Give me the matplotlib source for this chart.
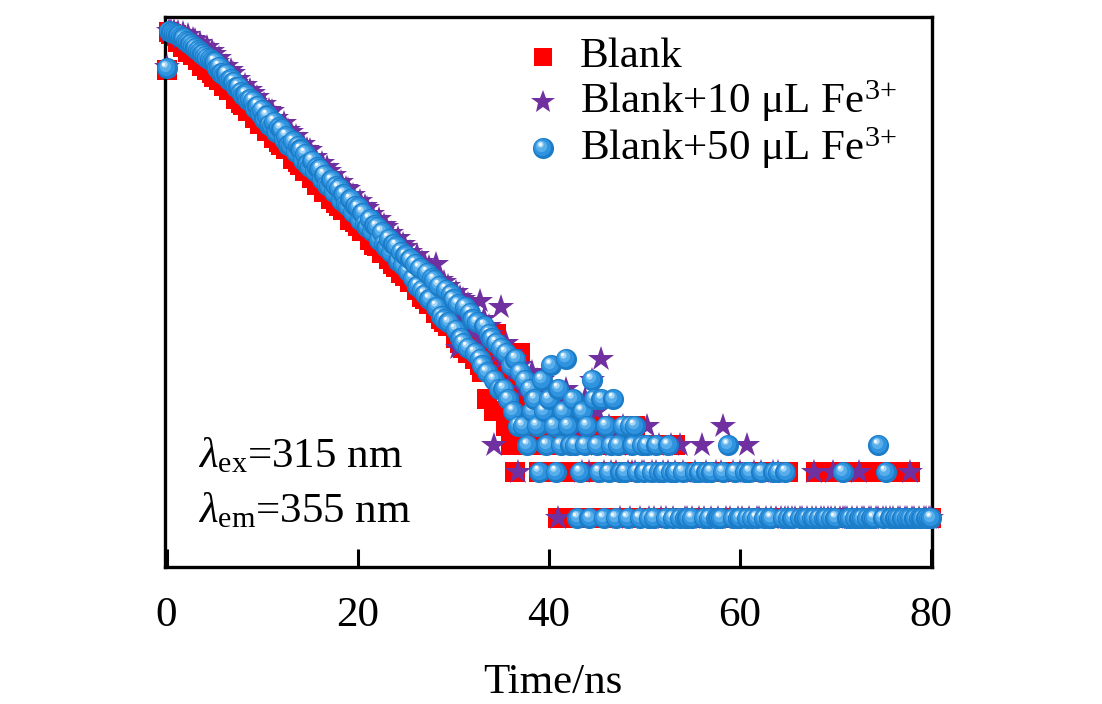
import numpy as np
import matplotlib
matplotlib.use("Agg")
import matplotlib.pyplot as plt
from matplotlib.transforms import offset_copy
from matplotlib.ticker import NullLocator, FixedLocator

plt.rcParams['font.family'] = ['Liberation Serif', 'DejaVu Serif']
plt.rcParams['mathtext.fontset'] = 'custom'
plt.rcParams['mathtext.rm'] = 'Liberation Serif'
plt.rcParams['mathtext.it'] = 'Liberation Serif:italic'
plt.rcParams['mathtext.bf'] = 'Liberation Serif:bold'

# ---------------- data (photon counts per 0.25 ns channel) ----------------
CHANNEL_NS = 0.25

blank = [
    850, 1490, 1465, 1420, 1433, 1300, 1328, 1202, 1289, 1116, 1182, 1066,
    1138, 983, 987, 893, 961, 844, 924, 812, 764, 832, 725, 757,
    666, 724, 631, 646, 641, 547, 583, 518, 499, 536, 459, 489,
    479, 410, 428, 377, 374, 395, 337, 370, 346, 305, 328, 286,
    273, 296, 258, 269, 261, 223, 238, 212, 204, 220, 185, 199,
    195, 166, 173, 151, 152, 161, 136, 148, 142, 122, 134, 114,
    110, 120, 103, 108, 107, 89, 97, 86, 81, 89, 75, 82,
    78, 66, 71, 61, 60, 66, 54, 60, 59, 49, 54, 46,
    44, 49, 40, 45, 38, 42, 35, 39, 37, 31, 35, 28,
    27, 32, 25, 29, 28, 22, 26, 20, 19, 24, 18, 22,
    21, 15, 19, 14, 13, 18, 12, 16, 15, 11, 14, 10,
    9, 13, 6, 12, 11, 5, 16, 9, 10, 7, 4, 9,
    3, 8, 2, 6, 12, 5, 3, 7, 5, 3, 6, 4,
    2, 5, 3, 6, 4, 3, 5, 2, 1, 4, 3, 5,
    3, 2, 4, 1, 2, 4, 1, 3, 3, 1, 2, 4,
    2, 3, 1, 2, 1, 2, 4, 3, 2, 1, 3, 4,
    3, 2, 1, 2, 4, 1, 2, 3, 2, 1, 3, 1,
    1, 2, 0, 2, 3, 1, 2, 1, 2, 3, 1, 0,
    1, 2, 0, 1, 2, 0, 1, 1, 1, 2, 1, 0,
    0, 1, 2, 1, 1, 1, 0, 2, 1, 0, 2, 1,
    2, 1, 0, 1, 1, 2, 1, 0, 0, 1, 2, 1,
    2, 0, 1, 1, 1, 2, 0, 1, 2, 1, 0, 1,
    1, 0, 1, 1, 0, 1, 1, 0, 2, 1, 0, 1,
    1, 2, 0, 1, 0, 1, 2, 1, 1, 0, 1, 2,
    2, 1, 0, 1, 1, 0, 2, 1, 0, 1, 1, 2,
    1, 2, 0, 1, 1, 0, 2, 1, 0, 1, 1, 2,
    1, 0, 1, 1, 1, 1, 0, 1, 1,
]

fe10 = [
    880, 1530, 1525, 1515, 1463, 1510, 1380, 1469, 1329, 1433, 1282, 1356,
    1338, 1170, 1267, 1131, 1119, 1199, 1033, 1120, 1077, 948, 1019, 870,
    847, 903, 771, 847, 815, 697, 743, 654, 623, 677, 585, 623,
    600, 523, 563, 477, 471, 506, 432, 465, 454, 387, 413, 364,
    347, 380, 325, 343, 334, 285, 313, 273, 260, 280, 236, 257,
    254, 214, 227, 201, 191, 209, 181, 196, 186, 160, 174, 147,
    145, 158, 133, 144, 141, 119, 129, 113, 108, 118, 99, 109,
    106, 88, 97, 84, 80, 90, 75, 82, 80, 66, 73, 62,
    61, 68, 55, 62, 59, 50, 55, 47, 46, 52, 41, 47,
    45, 37, 44, 34, 33, 46, 30, 36, 35, 27, 33, 25,
    24, 30, 13, 28, 27, 20, 25, 18, 21, 17, 19, 26,
    15, 20, 14, 18, 16, 3, 14, 12, 24, 11, 14, 10,
    12, 9, 11, 2, 10, 7, 9, 8, 7, 9, 6, 8,
    6, 8, 5, 7, 5, 7, 4, 6, 1, 6, 4, 7,
    5, 3, 6, 4, 3, 5, 2, 6, 4, 2, 8, 3,
    5, 3, 11, 2, 3, 4, 2, 3, 2, 3, 1, 4,
    3, 2, 1, 2, 2, 3, 1, 2, 2, 4, 1, 2,
    1, 2, 3, 1, 2, 1, 2, 3, 1, 2, 0, 3,
    2, 1, 1, 0, 1, 2, 0, 1, 3, 1, 2, 0,
    1, 0, 2, 1, 2, 4, 1, 0, 1, 2, 0, 1,
    2, 1, 0, 3, 1, 0, 2, 1, 1, 2, 0, 1,
    0, 1, 2, 1, 2, 1, 0, 1, 1, 0, 1, 1,
    0, 1, 1, 0, 1, 0, 1, 2, 1, 0, 1, 1,
    0, 1, 1, 2, 1, 0, 1, 1, 1, 1, 0, 1,
    0, 1, 2, 1, 1, 0, 1, 1, 0, 1, 1, 0,
    1, 1, 0, 1, 1, 0, 1, 1, 0, 1, 1, 2,
    1, 1, 0, 1, 0, 1, 1, 1, 1,
]

fe50 = [
    870, 1520, 1500, 1480, 1450, 1425, 1390, 1362, 1318, 1291, 1255, 1218,
    1185, 1146, 1112, 1083, 1049, 1022, 993, 968, 958, 875, 889, 808,
    781, 800, 725, 741, 709, 652, 658, 607, 584, 590, 541, 547,
    534, 477, 494, 443, 465, 406, 427, 372, 367, 390, 333, 358,
    349, 301, 314, 273, 269, 289, 247, 271, 256, 219, 240, 207,
    197, 216, 185, 197, 192, 164, 175, 151, 148, 161, 135, 148,
    143, 120, 131, 113, 109, 121, 100, 110, 107, 88, 99, 84,
    80, 90, 75, 82, 80, 66, 74, 62, 59, 67, 55, 62,
    60, 48, 55, 45, 52, 41, 49, 37, 46, 33, 43, 31,
    29, 40, 27, 37, 36, 24, 33, 21, 20, 31, 19, 29,
    27, 17, 25, 15, 14, 24, 13, 22, 20, 12, 19, 11,
    10, 18, 9, 16, 15, 8, 14, 7, 13, 7, 12, 6,
    10, 5, 11, 4, 9, 4, 8, 3, 7, 5, 6, 4,
    2, 8, 5, 3, 6, 10, 4, 2, 7, 3, 5, 11,
    4, 3, 6, 3, 1, 2, 5, 3, 4, 1, 8, 6,
    3, 2, 6, 1, 4, 2, 3, 6, 1, 3, 2, 4,
    2, 1, 4, 3, 4, 2, 1, 3, 2, 3, 1, 2,
    1, 3, 2, 0, 2, 1, 3, 2, 1, 2, 0, 1,
    2, 1, 1, 0, 1, 2, 0, 2, 0, 1, 2, 1,
    2, 0, 1, 1, 1, 2, 0, 3, 0, 1, 2, 1,
    1, 0, 2, 1, 2, 1, 0, 1, 0, 2, 1, 0,
    1, 1, 2, 0, 2, 0, 1, 2, 1, 0, 1, 0,
    0, 1, 0, 1, 1, 0, 1, 1, 0, 1, 0, 1,
    1, 0, 1, 0, 1, 0, 0, 2, 0, 1, 1, 0,
    1, 0, 1, 1, 0, 1, 0, 1, 1, 0, 3, 0,
    1, 2, 0, 1, 0, 1, 1, 0, 1, 0, 1, 1,
    0, 1, 0, 1, 1, 0, 1, 1, 1,
]

series_labels = ['Blank', 'Blank+10 μL Fe$^{3{+}}$', 'Blank+50 μL Fe$^{3{+}}$']
x_ticks = [0, 20, 40, 60, 80]
x_label = 'Time/ns'
notes = [r'$\lambda_{\rm ex}$=315 nm', r'$\lambda_{\rm em}$=355 nm']

RED = '#ff0000'
PURPLE = '#7030a0'
BLUE_LAYERS = [  # (size, colour, dx, dy) -> shaded sphere
    (15.2, '#1b7cc8', 0.0, 0.0),
    (12.4, '#2f93df', -0.5, 0.7),
    (8.2, '#57aeea', -1.3, 1.7),
    (4.5, '#a9d8f7', -2.0, 2.7),
    (2.1, '#ffffff', -2.4, 3.2),
]
SQUARE_MS = 14
STAR_MS = 19
FS = 31


def points(counts):
    c = np.asarray(counts, dtype=float)
    t = np.arange(len(c)) * CHANNEL_NS
    keep = c > 0
    return t[keep], c[keep]


fig = plt.figure(figsize=(11.02, 7.04), dpi=100)
ax = fig.add_axes([165 / 1102, 1 - 567 / 704, (932 - 165) / 1102, (567 - 17) / 704])
ax.set_yscale('log')
ax.set_xlim(-0.16, 80.1)
ax.set_ylim(0.478, 1880)

# Blank (red squares)
tb, cb = points(blank)
ax.plot(tb, cb, ls='none', marker='s', ms=SQUARE_MS, mfc=RED, mew=0, clip_on=False, zorder=2)

# Blank + 10 uL (purple stars)
t10, c10 = points(fe10)
ax.plot(t10, c10, ls='none', marker='*', ms=STAR_MS, mfc=PURPLE, mew=0, clip_on=False, zorder=3)

# Blank + 50 uL (shaded blue spheres), drawn point by point so each sphere keeps its shading
layer_tr = [offset_copy(ax.transData, fig=fig, x=dx, y=dy, units='points')
            for (_, _, dx, dy) in BLUE_LAYERS]
t50, c50 = points(fe50)
for x, y in zip(t50, c50):
    for (ms, col, _, _), tr in zip(BLUE_LAYERS, layer_tr):
        ax.plot([x], [y], ls='none', marker='o', ms=ms, mfc=col, mew=0,
                transform=tr, clip_on=False, zorder=4)

# axes styling
for sp in ax.spines.values():
    sp.set_linewidth(2.4)
ax.yaxis.set_major_locator(NullLocator())
ax.yaxis.set_minor_locator(NullLocator())
ax.xaxis.set_major_locator(FixedLocator(x_ticks))
ax.xaxis.set_minor_locator(NullLocator())
ax.set_xticklabels([str(v) for v in x_ticks])
ax.tick_params(axis='x', direction='in', length=13, width=2.2, labelsize=FS, pad=21,
               top=False, bottom=True)
ax.set_xlabel(x_label, fontsize=FS)
ax.xaxis.set_label_coords(0.505, (567 - 693) / 550)
ax.xaxis.label.set_va('baseline')

# legend (drawn by hand so the sphere handle gets the same shading)
leg_mx = (543 - 165) / 767
leg_tx = (580 - 165) / 767
leg_my = [(567 - 57) / 550, (567 - 102) / 550, (567 - 148) / 550]
leg_ty = [(567 - 67) / 550, (567 - 113) / 550, (567 - 160) / 550]
ax.plot([leg_mx], [leg_my[0]], marker='s', ms=13, mfc=RED, mew=0,
        transform=ax.transAxes, clip_on=False, zorder=5)
ax.plot([leg_mx], [leg_my[1]], marker='*', ms=18, mfc=PURPLE, mew=0,
        transform=ax.transAxes, clip_on=False, zorder=5)
for ms, col, dx, dy in BLUE_LAYERS:
    tr = offset_copy(ax.transAxes, fig=fig, x=dx, y=dy, units='points')
    ax.plot([leg_mx], [leg_my[2]], marker='o', ms=ms, mfc=col, mew=0,
            transform=tr, clip_on=False, zorder=5)
for lab, yy in zip(series_labels, leg_ty):
    ax.text(leg_tx, yy, lab, transform=ax.transAxes, fontsize=FS, va='baseline', ha='left')

# excitation / emission notes
note_x = (198 - 165) / 767
note_y = [(567 - 467) / 550, (567 - 522) / 550]
for txt, yy in zip(notes, note_y):
    ax.text(note_x, yy, txt, transform=ax.transAxes, fontsize=FS, va='baseline', ha='left')

fig.savefig('out.png', dpi=100)
